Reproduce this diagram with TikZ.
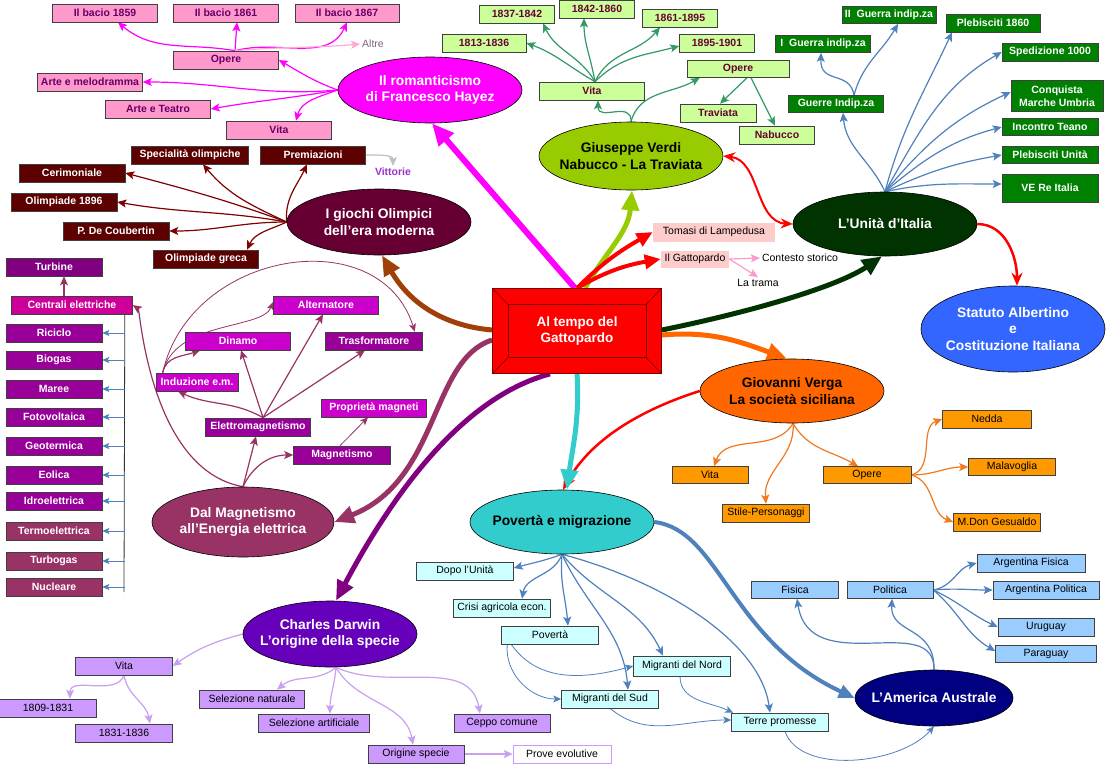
\documentclass[tikz,border=0pt]{standalone}
\usepackage{fontspec}
\setmainfont{Liberation Sans}
\usetikzlibrary{arrows.meta,shapes.geometric,calc}
\pgfdeclarelayer{bg}
\pgfsetlayers{bg,main}
\definecolor{hayM}{HTML}{FF00FF}
\definecolor{hayBox}{HTML}{FF99CC}
\definecolor{hayText}{HTML}{660066}
\definecolor{hayLight}{HTML}{FFAAD4}
\definecolor{altreC}{HTML}{806080}
\definecolor{olyE}{HTML}{660033}
\definecolor{olyB}{HTML}{5C0000}
\definecolor{olyL}{HTML}{800000}
\definecolor{vittC}{HTML}{9933CC}
\definecolor{verdiE}{HTML}{99CC00}
\definecolor{verdiB}{HTML}{CCFF99}
\definecolor{verdiT}{HTML}{660033}
\definecolor{verdiL}{HTML}{339966}
\definecolor{unitE}{HTML}{003300}
\definecolor{unitB}{HTML}{008000}
\definecolor{blueL}{HTML}{4F81BD}
\definecolor{staC}{HTML}{3366FF}
\definecolor{ctrR}{HTML}{FF0000}
\definecolor{ctrD}{HTML}{800000}
\definecolor{tomB}{HTML}{FFCCCC}
\definecolor{pinkL}{HTML}{FF99CC}
\definecolor{vergaE}{HTML}{FF6600}
\definecolor{vergaB}{HTML}{FF9900}
\definecolor{vergaL}{HTML}{F0781E}
\definecolor{povE}{HTML}{33CCCC}
\definecolor{povB}{HTML}{CCFFFF}
\definecolor{ameE}{HTML}{000080}
\definecolor{ameB}{HTML}{99CCFF}
\definecolor{darE}{HTML}{6600BB}
\definecolor{darB}{HTML}{CC99FF}
\definecolor{darL}{HTML}{C9A0F0}
\definecolor{darBig}{HTML}{800080}
\definecolor{mMar}{HTML}{993366}
\definecolor{mPur}{HTML}{990099}
\definecolor{mMag}{HTML}{CC00CC}
\definecolor{mTurb}{HTML}{800080}
\definecolor{mCent}{HTML}{CC0099}
\definecolor{brownC}{HTML}{A04008}
\definecolor{grayL}{HTML}{C0C0C0}
\tikzset{
  bx/.style={rectangle, draw=black!75, line width=0.6pt, inner xsep=2pt, inner ysep=0pt, minimum height=18pt, align=center, font=\fontsize{10.5}{12.5}\selectfont},
  bbx/.style={bx, font=\bfseries\fontsize{10.5}{12.5}\selectfont},
  hbox/.style={bbx, fill=hayBox, text=hayText},
  obox/.style={bbx, fill=olyB, text=white},
  vbox/.style={bbx, fill=verdiB, text=verdiT},
  gbox/.style={bbx, fill=unitB, text=white},
  mbox/.style={bbx, text=white, minimum width=96pt},
  tbox/.style={bx, draw=none, fill=tomB},
  obx/.style={bx, fill=vergaB},
  cbx/.style={bx, fill=povB, minimum width=97pt},
  abx/.style={bx, fill=ameB},
  dbx/.style={bx, fill=darB},
  plain/.style={font=\fontsize{10.5}{12.5}\selectfont, inner sep=2pt},
  ellshape/.style={ellipse, draw=black, line width=0.6pt, inner sep=0pt},
  elltext/.style={align=center, inner sep=0pt, font=\bfseries\fontsize{13.8}{16.5}\selectfont},
  arrtip/.style={-{Stealth[length=9pt,width=8pt,inset=2pt]}},
  cn/.style={line width=1.2pt, arrtip},
  thincn/.style={line width=0.8pt, -{Stealth[length=8pt,width=7pt,inset=2pt]}},
  hcon/.style={cn, draw=hayM},
  ocon/.style={cn, draw=olyL},
  vcon/.style={cn, draw=verdiL},
  ucon/.style={cn, draw=blueL},
  mcon/.style={cn, draw=mMar},
  mthin/.style={thincn, draw=mMar},
  bcon/.style={line width=0.8pt, draw=blueL, -{Stealth[length=7pt,width=6pt,inset=1.5pt]}},
  vgcon/.style={cn, draw=vergaL},
  pcon/.style={cn, draw=blueL},
  pthin/.style={thincn, draw=blueL},
  dcon/.style={cn, draw=darL},
  bigarr/.style={line width=5pt, -{Triangle[length=20pt,width=17pt]}},
  midarr/.style={line width=4pt, -{Triangle[length=16pt,width=14pt]}},
}
\begin{document}
\begin{tikzpicture}[x=1pt,y=-1pt]
\begin{pgfonlayer}{bg}
\fill[white] (0,0) rectangle (1108,764);
\end{pgfonlayer}
\useasboundingbox (0,0) rectangle (1108,764);

% ---------------- centre
\node[rectangle, fill=ctrR, draw=ctrD, line width=0.8pt, minimum width=169pt, minimum height=85pt] (ctr) at (577,331) {};
\draw[ctrD, line width=0.8pt] ($(ctr.center)+(-69,-26.5)$) rectangle ($(ctr.center)+(69,26.5)$);
\draw[ctrD, line width=0.7pt] (ctr.north west) -- ($(ctr.center)+(-69,-26.5)$)
  (ctr.north east) -- ($(ctr.center)+(69,-26.5)$)
  (ctr.south west) -- ($(ctr.center)+(-69,26.5)$)
  (ctr.south east) -- ($(ctr.center)+(69,26.5)$);
\node[elltext, text=white, font=\bfseries\fontsize{13.5}{16}\selectfont] (ctrt) at (ctr) {Al tempo del\\Gattopardo};

% ---------------- Hayez
\node[ellshape, fill=hayM, minimum width=184pt, minimum height=66pt] (hay) at (430,90) {};
\node[elltext, text=white] at (hay) {Il romanticismo\\di Francesco Hayez};
\node[hbox, minimum width=105pt] (b59) at (105,13) {Il bacio 1859};
\node[hbox, minimum width=105pt] (b61) at (226,13) {Il bacio 1861};
\node[hbox, minimum width=104pt] (b67) at (347,13) {Il bacio 1867};
\node[plain, text=altreC] (altre) at (373,44) {Altre};
\node[hbox, minimum width=105pt] (hop) at (226,60) {Opere};
\node[hbox, minimum width=105pt] (hmel) at (90,82) {Arte e melodramma};
\node[hbox, minimum width=105pt] (htea) at (158,109) {Arte e Teatro};
\node[hbox, minimum width=105pt] (hvit) at (279,130) {Vita};

% ---------------- Olympics
\node[ellshape, fill=olyE, minimum width=184pt, minimum height=66pt] (oly) at (379,222) {};
\node[elltext, text=white] at (oly) {I giochi Olimpici\\dell’era moderna};
\node[obox, minimum width=117pt] (ospec) at (190,155) {Specialità olimpiche};
\node[obox, minimum width=105pt] (oprem) at (313,155) {Premiazioni};
\node[plain, font=\bfseries\fontsize{10.5}{12.5}\selectfont, text=vittC] (vitt) at (393,172) {Vittorie};
\node[obox, minimum width=106pt] (ocer) at (72,173) {Cerimoniale};
\node[obox, minimum width=106pt] (o96) at (64,202) {Olimpiade 1896};
\node[obox, minimum width=106pt] (ocou) at (116,231) {P. De Coubertin};
\node[obox, minimum width=105pt] (ogre) at (206,259) {Olimpiade greca};

% ---------------- Magnetism
\node[mbox, fill=mTurb] (turb) at (54,267) {Turbine};
\node[mbox, fill=mCent, minimum width=121pt] (cent) at (72,305) {Centrali elettriche};
\node[mbox, fill=mPur] (ric) at (54,333) {Riciclo};
\node[mbox, fill=mPur] (bio) at (54,360) {Biogas};
\node[mbox, fill=mPur] (mar) at (54,389) {Maree};
\node[mbox, fill=mPur] (fot) at (54,417) {Fotovoltaica};
\node[mbox, fill=mPur] (geo) at (54,446) {Geotermica};
\node[mbox, fill=mPur] (eol) at (54,475) {Eolica};
\node[mbox, fill=mPur] (idr) at (54,501) {Idroelettrica};
\node[mbox, fill=mMar] (ter) at (54,531) {Termoelettrica};
\node[mbox, fill=mMar] (tgs) at (54,561) {Turbogas};
\node[mbox, fill=mMar] (nuc) at (54,587) {Nucleare};
\node[mbox, fill=mMag, minimum width=105pt] (alt) at (326,305) {Alternatore};
\node[mbox, fill=mMag, minimum width=105pt] (din) at (238,341) {Dinamo};
\node[mbox, fill=mPur, minimum width=97pt] (tra) at (374,341) {Trasformatore};
\node[mbox, fill=mMag, minimum width=82pt] (ind) at (197,382) {Induzione e.m.};
\node[mbox, fill=mMag, minimum width=105pt] (pro) at (374,408) {Proprietà magneti};
\node[mbox, fill=mPur, minimum width=105pt] (elm) at (258,427) {Elettromagnetismo};
\node[mbox, fill=mPur, minimum width=97pt] (mgn) at (342,455) {Magnetismo};
\node[ellshape, fill=mMar, minimum width=182pt, minimum height=70pt] (mag) at (243,522) {};
\node[elltext, text=white] at (mag) {Dal Magnetismo\\all’Energia elettrica};
\coordinate (bus) at ($(cent.south east)+(-8,0)$);
\coordinate (busend) at (124,592);

% ---------------- Darwin
\node[ellshape, fill=darE, minimum width=174pt, minimum height=66pt] (dar) at (330,634) {};
\node[elltext, text=white] at (dar) {Charles Darwin\\L’origine della specie};
\node[dbx, minimum width=97pt] (dvit) at (124,666) {Vita};
\node[dbx, minimum width=97pt] (d1809) at (48,708) {1809-1831};
\node[dbx, minimum width=97pt] (d1831) at (124,733) {1831-1836};
\node[dbx, minimum width=105pt] (dsn) at (252,699) {Selezione naturale};
\node[dbx, minimum width=111pt] (dsa) at (314,723) {Selezione artificiale};
\node[dbx, minimum width=96pt] (dcep) at (502,723) {Ceppo comune};
\node[dbx, minimum width=96pt] (dori) at (416,754) {Origine specie};
\node[bx, fill=white, draw=darB, minimum width=98pt] (dpro) at (562,754) {Prove evolutive};

% ---------------- Verdi
\node[ellshape, fill=verdiE, minimum width=184pt, minimum height=68pt] (verdi) at (631,156) {};
\node[elltext, text=black] at (verdi) {Giuseppe Verdi\\Nabucco - La Traviata};
\node[vbox, minimum width=75pt] (v1837) at (517,14) {1837-1842};
\node[vbox, minimum width=75pt] (v1842) at (597,9) {1842-1860};
\node[vbox, minimum width=75pt] (v1861) at (680,18) {1861-1895};
\node[vbox, minimum width=84pt] (v1813) at (484,43) {1813-1836};
\node[vbox, minimum width=75pt] (v1895) at (717,43) {1895-1901};
\node[vbox, minimum width=105pt] (vvit) at (592,91) {Vita};
\node[vbox, minimum width=102pt, minimum height=17pt] (vope) at (738,69) {Opere};
\node[vbox, minimum width=76pt] (vtra) at (718,113) {Traviata};
\node[vbox, minimum width=75pt] (vnab) at (777,135) {Nabucco};

% ---------------- Unita
\node[ellshape, fill=unitE, minimum width=184pt, minimum height=64pt] (uni) at (885,224) {};
\node[elltext, text=white] at (uni) {L’Unità d’Italia};
\node[gbox, minimum width=94pt, minimum height=17pt] (g2) at (889,15) {II\ \ Guerra indip.za};
\node[gbox, minimum width=95pt, minimum height=17pt] (g1) at (823,44) {I\ \ Guerra indip.za};
\node[gbox, minimum width=95pt, minimum height=17pt] (gg) at (836,104) {Guerre Indip.za};
\node[gbox, minimum width=94pt] (gp60) at (993,23) {Plebisciti 1860};
\node[gbox, minimum width=96pt] (gsp) at (1050,52) {Spedizione 1000};
\node[gbox, minimum width=92pt, minimum height=31pt] (gcq) at (1057,96) {Conquista\\Marche Umbria};
\node[gbox, minimum width=96pt, minimum height=17pt] (gte) at (1050,127) {Incontro Teano};
\node[gbox, minimum width=96pt, minimum height=17pt] (gpu) at (1050,155) {Plebisciti Unità};
\node[gbox, minimum width=96pt, minimum height=28pt] (gve) at (1050,188) {VE Re Italia};
\node[ellshape, fill=staC, minimum width=184pt, minimum height=86pt] (sta) at (1013,329) {};
\node[elltext, text=white] at (sta) {Statuto Albertino\\e\\Costituzione Italiana};

% ---------------- Tomasi
\node[tbox, minimum width=122pt, minimum height=19pt] (tom) at (714,232) {Tomasi di Lampedusa};
\node[tbox, minimum width=68pt, minimum height=17pt] (gat) at (695,259) {Il Gattopardo};
\node[plain] (cont) at (800,258) {Contesto storico};
\node[plain] (tram) at (758,283) {La trama};

% ---------------- Verga
\node[ellshape, fill=vergaE, minimum width=184pt, minimum height=64pt] (ver) at (792,391) {};
\node[elltext, text=black] at (ver) {Giovanni Verga\\La società siciliana};
\node[obx, minimum width=76pt, minimum height=17pt] (vgv) at (710,475) {Vita};
\node[obx, minimum width=88pt, minimum height=17pt] (vgo) at (867,475) {Opere};
\node[obx, minimum width=87pt] (vgs) at (766,513) {Stile-Personaggi};
\node[obx, minimum width=89pt] (vgn) at (987,419) {Nedda};
\node[obx, minimum width=87pt, minimum height=17pt] (vgm) at (1012,467) {Malavoglia};
\node[obx, minimum width=87pt] (vgd) at (997,522) {M.Don Gesualdo};

% ---------------- Poverta
\node[ellshape, fill=povE, minimum width=184pt, minimum height=64pt] (pov) at (562,522) {};
\node[elltext, text=black] at (pov) {Povertà e migrazione};
\node[cbx] (pdo) at (465,571) {Dopo l’Unità};
\node[cbx] (pcr) at (502,608) {Crisi agricola econ.};
\node[cbx] (ppo) at (550,635) {Povertà};
\node[cbx, minimum height=20pt] (pno) at (682,666) {Migranti del Nord};
\node[cbx] (psu) at (610,699) {Migranti del Sud};
\node[cbx] (pte) at (780,722) {Terre promesse};

% ---------------- America
\node[ellshape, fill=ameE, minimum width=158pt, minimum height=56pt] (ame) at (934,698) {};
\node[elltext, text=white] at (ame) {L’America Australe};
\node[abx, minimum width=87pt, minimum height=17pt] (afi) at (795,590) {Fisica};
\node[abx, minimum width=86pt, minimum height=17pt] (apo) at (890,590) {Politica};
\node[abx, minimum width=108pt] (aaf) at (1031,563) {Argentina Fisica};
\node[abx, minimum width=106pt] (aap) at (1046,590) {Argentina Politica};
\node[abx, minimum width=96pt] (aur) at (1046,627) {Uruguay};
\node[abx, minimum width=101pt, minimum height=17pt] (apa) at (1046,654) {Paraguay};

% ================= connectors
\begin{pgfonlayer}{bg}
% Hayez
\draw[hcon] (hay.west) to[out=160,in=-30] (hop.east);
\draw[hcon] (hay.west) to[out=185,in=0] (hmel.east);
\draw[hcon] (hay.west) to[out=190,in=10] (htea.east);
\draw[hcon] (hay.west) to[out=200,in=75] ($(hvit.north)+(17,0)$);
\coordinate (hopn) at ($(hop.north)+(9,0)$);
\draw[hcon] (hopn) to[out=170,in=-40] ($(b59.south)+(13,0)$);
\draw[hcon] (hopn) -- ($(b61.south)+(11,0)$);
\draw[hcon] (hopn) to[out=15,in=-115] (b67.south);
\draw[cn, draw=hayLight] (hopn) to[out=5,in=185] (altre.west);
\draw[bigarr, line width=6pt, draw=hayM, -{Triangle[length=22pt,width=19pt]}] ($(ctr.north)+(-2,0)$) -- ($(hay.south)+(2,0)$);
% Olympics
\draw[ocon] (oly.west) to[out=155,in=-50] ($(ospec.south)+(13,0)$);
\draw[ocon] (oly.west) to[out=95,in=-115] ($(oprem.south)+(-6,0)$);
\draw[ocon] (oly.west) to[out=160,in=-15] (ocer.east);
\draw[ocon] (oly.west) to[out=170,in=-10] (o96.east);
\draw[ocon] (oly.west) to[out=180,in=0] (ocou.east);
\draw[ocon] (oly.west) to[out=205,in=65] ($(ogre.north)+(41,0)$);
\draw[cn, draw=grayL] (oprem.east) to[out=0,in=90] (vitt.north);
\draw[bigarr, draw=brownC] ($(ctr.west)+(0,-1)$) to[out=175,in=-60] ($(oly.south)+(3,0)$);
% Magnetism
\draw[black!80, line width=0.8pt] (bus) -- (busend);
\foreach \n in {ric,bio,mar,fot,geo,eol,idr,ter,tgs,nuc}{
  \draw[bcon] (\n.east -| bus) -- (\n.east);
}
\draw[mcon] ($(cent.north)+(-8,0)$) -- ($(turb.south)+(10,0)$);
\draw[mcon] (mag.north) -- ($(elm.south)+(-2,0)$);
\draw[mcon] (mag.north) to[out=65,in=180] (mgn.west);
\coordinate (elmn) at ($(elm.north)+(5,0)$);
\draw[mcon] (elmn) to[out=150,in=-25] ($(ind.south)+(-19,0)$);
\draw[mcon] (elmn) -- ($(din.south)+(3,0)$);
\draw[mcon] (elmn) -- ($(alt.south)+(-3,0)$);
\draw[mcon] (elmn) -- ($(tra.south)+(-9,0)$);
\coordinate (indn) at ($(ind.north west)+(7,0)$);
\draw[mcon] (indn) to[out=80,in=-160] ($(din.south)+(-38,0)$);
\draw[mthin] (indn) .. controls (175,320) and (262,330) .. ($(alt.west)+(0,-3)$);
\draw[mthin] (indn) .. controls (190,250) and (380,220) .. ($(tra.north east)+(-8,0)$);
\draw[mthin] ($(mgn.north)+(-2,0)$) -- ($(pro.south)+(-6,0)$);
\draw[mcon] (mag.north) .. controls (150,470) and (140,310) .. (cent.east);
\draw[bigarr, draw=mMar] ($(ctr.west)+(0,9)$) .. controls (430,360) and (440,480) .. (mag.east);
% Darwin
\draw[dcon] (dar.west) to[out=195,in=35] (dvit.east);
\draw[dcon] (dvit.south) to[out=-110,in=90] ($(d1809.north)+(22,0)$);
\draw[dcon] (dvit.south) to[out=-80,in=100] ($(d1831.north)+(26,0)$);
\coordinate (dars) at ($(dar.south)+(6,0)$);
\draw[dcon] (dars) to[out=-140,in=40] ($(dsn.north)+(25,0)$);
\draw[dcon] (dars) to[out=-95,in=90] ($(dsa.north)+(16,0)$);
\draw[dcon] (dars) to[out=-60,in=100] ($(dori.north)+(-3,0)$);
\draw[dcon] (dars) to[out=-25,in=100] ($(dcep.north)+(-22,0)$);
\draw[dcon] (dori.east) -- (dpro.west);
\draw[bigarr, draw=darBig] ($(ctr.south)+(-27,0)$) .. controls (470,395) and (400,480) .. ($(dar.north)+(6,0)$);
% Verdi
\coordinate (vvn) at ($(vvit.north)+(3,0)$);
\draw[vcon] (vvn) to[out=150,in=-20] (v1813.east);
\draw[vcon] (vvn) to[out=120,in=-65] ($(v1837.south)+(26,0)$);
\draw[vcon] (vvn) to[out=100,in=-90] ($(v1842.south)+(-13,0)$);
\draw[vcon] (vvn) to[out=65,in=-130] ($(v1861.south)+(-20,0)$);
\draw[vcon] (vvn) to[out=45,in=-165] ($(v1895.west)+(0,3)$);
\draw[vcon] (verdi.north) .. controls (632,100) and (598,122) .. ($(vvit.south)+(6,0)$);
\draw[vcon] (verdi.north) to[out=75,in=-150] ($(vope.south west)+(13,0)$);
\draw[vcon] ($(vope.south)+(9,0)$) -- ($(vtra.north)+(2,0)$);
\draw[vcon] ($(vope.south)+(13,0)$) -- ($(vnab.north)+(-2,0)$);
\draw[bigarr, draw=verdiE] ($(ctr.north)+(8,0)$) to[out=60,in=-95] ($(verdi.south)+(1,0)$);
% Tomasi
\draw[midarr, draw=ctrR] (ctr.north) to[out=45,in=-150] (tom.west);
\draw[midarr, draw=ctrR] (ctr.north) to[out=30,in=-170] (gat.west);
\draw[cn, draw=pinkL] (gat.east) -- (cont.west);
\draw[cn, draw=pinkL] (gat.east) -- (tram.north);
% Unita
\draw[ucon] (uni.north) to[out=115,in=-85] ($(gg.south)+(7,0)$);
\draw[ucon] (uni.north) to[out=75,in=-115] ($(gp60.south)+(-41,0)$);
\draw[ucon] (uni.north) to[out=60,in=-150] (gsp.west);
\draw[ucon] (uni.north) to[out=50,in=-155] ($(gcq.west)+(0,-4)$);
\draw[ucon] (uni.north) to[out=40,in=-165] (gte.west);
\draw[ucon] (uni.north) to[out=25,in=-170] (gpu.west);
\draw[ucon] (uni.north) to[out=12,in=180] ($(gve.west)+(0,-4)$);
\coordinate (ggn) at ($(gg.north)+(18,0)$);
\draw[ucon] (ggn) .. controls (850,70) and (820,85) .. ($(g1.south)+(-2,0)$);
\draw[ucon] (ggn) to[out=75,in=-120] ($(g2.south)+(9,0)$);
\draw[bigarr, draw=unitE] ($(ctr.east)+(0,-1)$) .. controls (760,310) and (840,285) .. ($(uni.south)+(-3,0)$);
\draw[ctrR, line width=2pt, {Stealth[length=12pt,width=10pt]}-{Stealth[length=12pt,width=10pt]}] (verdi.east) .. controls (760,160) and (755,222) .. (uni.west);
\draw[ctrR, line width=2.5pt, -{Stealth[length=13pt,width=11pt]}] (uni.east) to[out=0,in=90] ($(sta.north)+(4,0)$);
% Verga
\draw[bigarr, draw=vergaE] ($(ctr.east)+(0,4)$) to[out=5,in=160] ($(ver.north)+(-5,0)$);
\coordinate (vers) at ($(ver.south)+(1,0)$);
\draw[vgcon] (vers) to[out=-120,in=70] ($(vgv.north)+(4,0)$);
\draw[vgcon] (vers) to[out=-85,in=95] (vgs.north);
\draw[vgcon] (vers) to[out=-60,in=150] ($(vgo.north)+(-9,0)$);
\draw[vgcon] (vgo.east) to[out=15,in=-160] (vgn.west);
\draw[vgcon] (vgo.east) to[out=0,in=180] (vgm.west);
\draw[vgcon] (vgo.east) to[out=-15,in=160] (vgd.west);
\draw[ctrR, line width=2.5pt, -{Stealth[length=14pt,width=12pt]}] (ver.west) .. controls (640,410) and (590,440) .. ($(pov.north)+(1,0)$);
\draw[bigarr, draw=povE] (ctr.south) .. controls (580,420) and (572,450) .. ($(pov.north)+(5,0)$);
% Poverta
\draw[pcon] (pov.south) to[out=-160,in=15] ($(pdo.east)+(0,-3)$);
\draw[pcon] (pov.south) to[out=-110,in=80] ($(pcr.north)+(20,0)$);
\draw[pcon] (pov.south) to[out=-95,in=95] ($(ppo.north)+(18,0)$);
\draw[pcon] (pov.south) to[out=-65,in=95] ($(psu.north)+(18,0)$);
\draw[pcon] (pov.south) to[out=-50,in=115] ($(pno.north)+(-19,0)$);
\draw[pcon] (pov.south) .. controls (660,580) and (760,640) .. ($(pte.north)+(-10,0)$);
\draw[pthin] ($(ppo.south west)+(6,0)$) to[out=-95,in=180] (psu.west);
\draw[pthin] ($(ppo.south west)+(10,0)$) to[out=-55,in=-165] (pno.west);
\draw[pthin] ($(pno.south)+(-2,0)$) to[out=-90,in=155] ($(pte.north west)+(2,0)$);
\draw[pthin] (psu.south) to[out=-40,in=180] ($(pte.west)+(0,-2)$);
\draw[pthin] ($(pte.south)+(5,0)$) .. controls (800,775) and (900,765) .. (ame.south);
\draw[line width=4pt, draw=blueL, -{Triangle[length=16pt,width=13pt]}] (pov.east) .. controls (720,530) and (730,640) .. (ame.west);
% America
\draw[pcon] (ame.north) .. controls (935,610) and (810,680) .. ($(afi.south)+(2,0)$);
\draw[pcon] (ame.north) .. controls (935,625) and (890,635) .. ($(apo.south)+(2,0)$);
\draw[pcon] (apo.east) to[out=10,in=-165] (aaf.west);
\draw[pcon] (apo.east) to[out=5,in=180] (aap.west);
\draw[pcon] (apo.east) to[out=-25,in=155] (aur.west);
\draw[pcon] (apo.east) to[out=-40,in=150] ($(apa.west)+(0,-3)$);
\end{pgfonlayer}
\end{tikzpicture}
\end{document}
